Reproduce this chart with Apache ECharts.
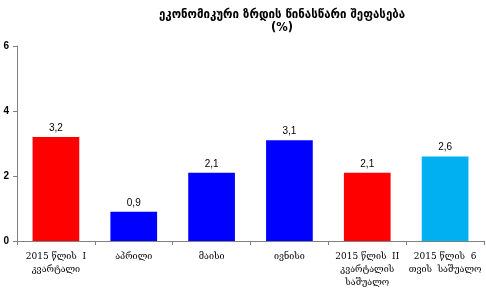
<!doctype html>
<html>
<head>
<meta charset="utf-8">
<title>ეკონომიკური ზრდის წინასწარი შეფასება</title>
<script src="https://cdn.jsdelivr.net/npm/echarts@6/dist/echarts.min.js"></script>
<style>
html,body{margin:0;padding:0;background:#fff;}
#main{width:486px;height:293px;}
</style>
</head>
<body>
<div id="main"></div>
<script>
// კატეგორიები და მნიშვნელობები
var categories = ['2015 წლის  I\nკვარტალი', 'აპრილი', 'მაისი', 'ივნისი', '2015 წლის  II\nკვარტალის\nსაშუალო', '2015 წლის  6\nთვის  საშუალო'];
var values = [3.2, 0.9, 2.1, 3.1, 2.1, 2.6];
var barColors = ['#ff0000', '#0000ff', '#0000ff', '#0000ff', '#ff0000', '#00b0f0'];
var yTicks = [0, 2, 4, 6];

var myChart = echarts.init(document.getElementById('main'));

var option = {
    animation: false,
    title: {
        text: 'ეკონომიკური ზრდის წინასწარი შეფასება\n(%)',
        left: 277,
        top: 4,
        textAlign: 'center',
        textStyle: {
            fontFamily: 'DejaVu Sans',
            fontSize: 11.5,
            fontWeight: 'bold',
            color: '#000',
            lineHeight: 13
        }
    },
    grid: {left: 17, right: 2, top: 46, bottom: 52},
    xAxis: {
        type: 'category',
        data: categories,
        axisLine: {lineStyle: {color: '#808080'}},
        axisTick: {show: true, length: 4, lineStyle: {color: '#808080'}},
        axisLabel: {
            interval: 0,
            margin: 9,
            fontFamily: 'DejaVu Serif',
            fontSize: 9,
            lineHeight: 13,
            color: '#000'
        }
    },
    yAxis: {
        type: 'value',
        min: 0,
        max: 6,
        interval: 2,
        axisLine: {show: true, lineStyle: {color: '#808080'}},
        axisTick: {show: true, inside: false, length: 4, lineStyle: {color: '#808080'}},
        splitLine: {show: false},
        axisLabel: {
            margin: 8,
            fontFamily: 'Liberation Sans',
            fontSize: 10,
            fontWeight: 'bold',
            color: '#000',
            formatter: function (v) { return yTicks.indexOf(v) >= 0 ? String(v) : ''; }
        }
    },
    series: [{
        type: 'bar',
        barWidth: '60%',
        data: values.map(function (v, i) {
            return {value: v, itemStyle: {color: barColors[i]}};
        }),
        label: {
            show: true,
            position: 'top',
            distance: 4,
            fontFamily: 'Liberation Sans',
            fontSize: 10,
            color: '#000',
            formatter: function (p) { return p.value.toFixed(1).replace('.', ','); }
        }
    }]
};

myChart.setOption(option);
</script>
</body>
</html>
